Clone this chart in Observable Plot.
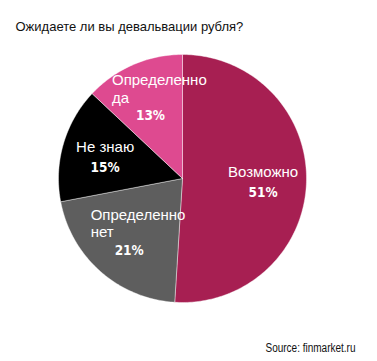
<!DOCTYPE html>
<html>
<head>
<meta charset="utf-8">
<script src="https://cdn.jsdelivr.net/npm/d3@7"></script>
<script src="https://cdn.jsdelivr.net/npm/@observablehq/plot@0.6"></script>
<style>
  html, body { margin: 0; padding: 0; background: #fff; }
  #chart svg { display: block; }
</style>
</head>
<body>
<div id="chart"></div>
<script>
const title = "Ожидаете ли вы девальвации рубля?";
const source = "Source: finmarket.ru";
const categories = ["Возможно", "Определенно нет", "Не знаю", "Определенно да"];
const sliceLabels = ["Возможно", "Определенно\nнет", "Не знаю", "Определенно\nда"];
const values = [51, 21, 15, 13];
const colors = ["#a71f52", "#5e5e5e", "#000000", "#de4a90"];

const total = d3.sum(values);
const W = 377, H = 361;
const cx = 182, cy = 178, R = 124;

const slicePts = [];
const labelRows = [];
let acc = 0;
values.forEach((v, i) => {
  const a0 = acc / total * 2 * Math.PI;
  acc += v;
  const a1 = acc / total * 2 * Math.PI;
  slicePts.push({cat: categories[i], x: 0, y: 0});
  const n = Math.max(2, Math.ceil((a1 - a0) / (Math.PI / 180)));
  for (let k = 0; k <= n; k++) {
    const a = a0 + (a1 - a0) * k / n;
    slicePts.push({cat: categories[i], x: Math.sin(a), y: Math.cos(a)});
  }
  slicePts.push({cat: categories[i], x: 0, y: 0});
  const mid = (a0 + a1) / 2, r = 0.65;
  const lines = sliceLabels[i].split("\n");
  const maxLen = d3.max(lines, s => s.length);
  labelRows.push({
    cat: categories[i],
    name: sliceLabels[i],
    multi: lines.length > 1,
    x: r * Math.sin(mid),
    xs: r * Math.sin(mid) - (maxLen * 7.0 / 2) / R,
    y: r * Math.cos(mid),
    pct: v + "%"
  });
});

const chart = Plot.plot({
  width: W,
  height: H,
  margin: 0,
  x: {domain: [-cx / R, (W - cx) / R], axis: null},
  y: {domain: [(cy - H) / R, cy / R], axis: null},
  color: {domain: categories, range: colors},
  style: {fontFamily: "'Liberation Sans', Arial, sans-serif", background: "#fff"},
  marks: [
    Plot.line(slicePts, {x: "x", y: "y", z: "cat", fill: "cat", stroke: "#ffffff", strokeWidth: 0.6, strokeOpacity: 0.7, curve: "linear"}),
    Plot.text(labelRows.filter(d => !d.multi), {x: "x", y: "y", text: "name", fill: "#fff", fontSize: 15, lineAnchor: "bottom", textAnchor: "middle", dy: -4}),
    Plot.text(labelRows.filter(d => d.multi), {x: "xs", y: "y", text: "name", fill: "#fff", fontSize: 15, lineAnchor: "bottom", textAnchor: "start", lineHeight: 1.15, dy: -2}),
    Plot.text(labelRows, {x: "x", y: "y", text: "pct", fill: "#fff", fontSize: 13.5, fontWeight: "bold", fontFamily: "'DejaVu Sans Condensed', 'DejaVu Sans', sans-serif", lineAnchor: "top", textAnchor: "middle", dy: 6}),
    Plot.text([title], {text: d => d, frameAnchor: "top-left", dx: 15, dy: 21, fontSize: 13, fill: "#111", textAnchor: "start", lineAnchor: "top"}),
    Plot.text([source], {text: d => d, frameAnchor: "bottom-right", dx: -22, dy: -10, fontSize: 12, fill: "#111", textAnchor: "end", lineAnchor: "bottom"})
  ]
});
d3.select(chart).selectAll("text")
  .filter(function () { return this.textContent === source; })
  .attr("textLength", 90)
  .attr("lengthAdjust", "spacingAndGlyphs");
document.getElementById("chart").append(chart);
</script>
</body>
</html>
